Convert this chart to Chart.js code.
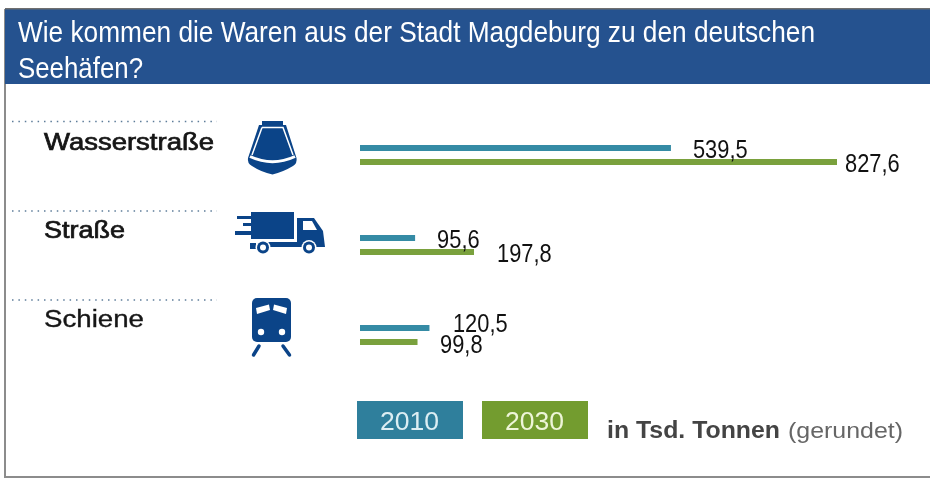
<!DOCTYPE html>
<html lang="de">
<head>
<meta charset="utf-8">
<title>Wie kommen die Waren aus der Stadt Magdeburg zu den deutschen Seehäfen?</title>
<style>
html,body{margin:0;padding:0;background:#fff}
#wrap{position:relative;width:930px;height:483px}
canvas{display:block}
</style>
<script src="https://cdn.jsdelivr.net/npm/chart.js@4"></script>
</head>
<body>
<div id="wrap"><canvas id="c" width="930" height="483"></canvas></div>
<script>
const categories = ["Wasserstraße", "Straße", "Schiene"];
const seriesNames = ["2010", "2030"];
const values2010 = [539.5, 95.6, 120.5];
const values2030 = [827.6, 197.8, 99.8];
const titleLines = ["Wie kommen die Waren aus der Stadt Magdeburg zu den deutschen", "Seehäfen?"];
const unitBold = "in Tsd. Tonnen";
const unitLight = "(gerundet)";

const colors = ["#358ba5", "#7aa13d"];
const legendColors = ["#2f7f9c", "#739c2f"];
const navy = "#0b4488";

// label nudges relative to the bar end / bar centre, as in the reference
const labelShift = [
  [[22, 10], [22, 10], [23.5, 4]],
  [[8, 10], [23, 10], [22.5, 11]]
];

function fmt(v){ return v.toFixed(1).replace(".", ","); }

// draws real text, squeezed or stretched horizontally to a given width
function txt(ctx, s, x, y, font, color, width, stroke){
  ctx.save();
  ctx.font = font; ctx.fillStyle = color;
  ctx.textAlign = "left"; ctx.textBaseline = "alphabetic";
  const sx = width ? width / ctx.measureText(s).width : 1;
  ctx.translate(x, y); ctx.scale(sx, 1);
  ctx.fillText(s, 0, 0);
  if (stroke) { ctx.strokeStyle = color; ctx.lineWidth = stroke; ctx.strokeText(s, 0, 0); }
  ctx.restore();
}

function boat(c){
  c.fillStyle = navy;
  c.fillRect(262,121,21,4);
  c.beginPath();
  c.moveTo(259,125); c.lineTo(286,125);
  c.lineTo(296.5,158); c.quadraticCurveTo(297.5,163,293,166);
  c.quadraticCurveTo(283,172,272.5,174.5); c.quadraticCurveTo(261,172,252,166);
  c.quadraticCurveTo(247,163,248,158); c.closePath(); c.fill();
  c.strokeStyle = "#fff"; c.lineWidth = 1.5;
  c.beginPath();
  c.moveTo(262,127.5); c.lineTo(283,127.5); c.lineTo(293,155); c.moveTo(262,127.5); c.lineTo(252,155);
  c.stroke();
  c.lineWidth = 3;
  c.beginPath(); c.moveTo(250,156.5); c.quadraticCurveTo(272.5,167,295,156.5); c.stroke();
}

function truck(c){
  c.fillStyle = navy;
  c.fillRect(251,212,43,27);
  c.fillRect(237,216,14,3);
  c.fillRect(243,223,8,3);
  c.fillRect(235,231,16,4);
  c.beginPath();
  c.moveTo(297,218); c.lineTo(314,218); c.lineTo(323,231); c.lineTo(325,247); c.lineTo(297,247); c.closePath(); c.fill();
  c.fillRect(262,242,50,5);
  c.fillRect(250,243,6,6);
  c.fillStyle = "#fff";
  c.beginPath(); c.moveTo(303,221); c.lineTo(312,221); c.lineTo(317,230); c.lineTo(303,230); c.closePath(); c.fill();
  [[263,247.5],[309,247.5]].forEach(function(p){
    c.fillStyle = "#fff"; c.beginPath(); c.arc(p[0],p[1],7.5,0,7); c.fill();
    c.fillStyle = navy; c.beginPath(); c.arc(p[0],p[1],6,0,7); c.fill();
    c.fillStyle = "#fff"; c.beginPath(); c.arc(p[0],p[1],3,0,7); c.fill();
  });
}

function train(c){
  c.fillStyle = navy;
  c.beginPath(); c.roundRect(252,298,39,44,5); c.fill();
  c.fillStyle = "#fff";
  c.beginPath(); c.moveTo(256,308); c.lineTo(269,304.5); c.lineTo(270,310); c.lineTo(257,314); c.closePath(); c.fill();
  c.beginPath(); c.moveTo(287,308); c.lineTo(274,304.5); c.lineTo(273,310); c.lineTo(286,314); c.closePath(); c.fill();
  c.beginPath(); c.arc(261,332,3.2,0,7); c.fill();
  c.beginPath(); c.arc(282,332,3.2,0,7); c.fill();
  c.strokeStyle = navy; c.lineWidth = 3.5; c.lineCap = "round";
  c.beginPath(); c.moveTo(259,346); c.lineTo(253.5,355); c.stroke();
  c.beginPath(); c.moveTo(283,346); c.lineTo(289.5,355); c.stroke();
  c.lineCap = "butt";
}

const decor = {
  id: "decor",
  beforeDatasetsDraw(chart){
    const c = chart.ctx;
    c.save();
    // frame
    c.fillStyle = "#8c8c8c";
    c.fillRect(4,9,2,469);
    c.fillRect(4,476,926,2);
    // header
    c.fillStyle = "#25528f";
    c.fillRect(5,9,925,75);
    c.fillStyle = "#6f6f6f"; c.fillRect(5,8,925,1.5);
    txt(c, titleLines[0], 18, 41.5, "30px 'Liberation Sans'", "#fff", 797);
    txt(c, titleLines[1], 18, 78, "30px 'Liberation Sans'", "#fff", 125);
    // rows
    const dotY = [121.5, 211, 300];
    const textY = [150, 238, 327];
    const textW = [170, 81, 100];
    const weight = [0.7, 0.7, 0.35];
    categories.forEach(function(name, i){
      c.strokeStyle = "#5d7c99"; c.lineWidth = 1.6;
      c.setLineDash([1.5, 4.9]);
      c.beginPath(); c.moveTo(12, dotY[i]); c.lineTo(217, dotY[i]); c.stroke();
      c.setLineDash([]);
      txt(c, name, 44, textY[i], "23px 'Liberation Sans'", "#161616", textW[i], weight[i]);
    });
    boat(c); truck(c); train(c);
    // legend
    const legendX = [357, 482];
    seriesNames.forEach(function(name, i){
      c.fillStyle = legendColors[i];
      c.fillRect(legendX[i],401,106,38);
      txt(c, name, legendX[i] + 23, 430, "26px 'Liberation Sans'", i === 0 ? "#dceef3" : "#eef5d8", 59);
    });
    txt(c, unitBold, 607, 438, "bold 23px 'Liberation Sans'", "#444", 173);
    txt(c, unitLight, 788, 438, "22.5px 'Liberation Sans'", "#666", 115);
    c.restore();
  },
  afterDatasetsDraw(chart){
    const c = chart.ctx;
    chart.data.datasets.forEach(function(ds, d){
      chart.getDatasetMeta(d).data.forEach(function(bar, i){
        const s = labelShift[d][i];
        const t = fmt(ds.data[i]);
        c.font = "26px 'Liberation Sans'";
        const w = c.measureText(t).width * 0.84;
        txt(c, t, bar.x + s[0], bar.y + s[1], "26px 'Liberation Sans'", "#111", w);
      });
    });
  }
};

new Chart(document.getElementById("c"), {
  type: "bar",
  data: {
    labels: categories,
    datasets: [
      { label: seriesNames[0], data: values2010, backgroundColor: colors[0] },
      { label: seriesNames[1], data: values2030, backgroundColor: colors[1] }
    ]
  },
  options: {
    indexAxis: "y",
    responsive: false,
    animation: false,
    layout: { padding: { left: 360, right: 93, top: 110, bottom: 103 } },
    categoryPercentage: 28 / 90,
    barPercentage: 6 / 14,
    scales: {
      x: { display: false, min: 0, max: 827.6 },
      y: { display: false }
    },
    plugins: { legend: { display: false }, tooltip: { enabled: false }, title: { display: false } }
  },
  plugins: [decor]
});
</script>
</body>
</html>
